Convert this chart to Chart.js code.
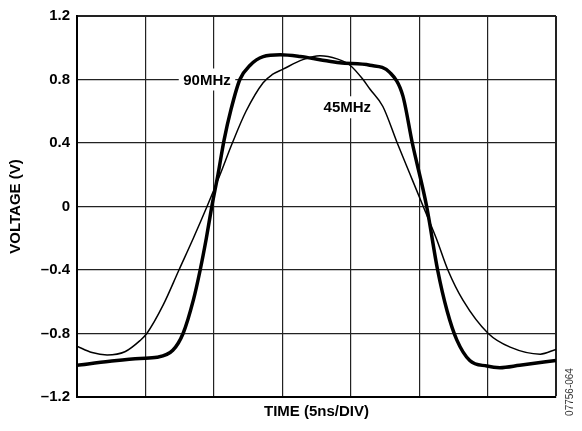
<!DOCTYPE html>
<html>
<head>
<meta charset="utf-8">
<script src="https://cdn.jsdelivr.net/npm/chart.js@4.4.0/dist/chart.umd.min.js"></script>
<style>
  html, body { margin: 0; padding: 0; background: #fff; }
</style>
</head>
<body>
<canvas id="scopeChart" width="582" height="431"></canvas>
<script>
// time in divisions (5 ns/div), voltage in V
const time90 = [0, 0.48, 0.92, 1.17, 1.40, 1.55, 1.70, 1.80, 1.89, 1.97, 2.06, 2.15, 2.25, 2.38, 2.53, 2.72, 2.97, 3.26, 3.55, 3.84, 4.28, 4.57, 4.76, 4.90, 5.11, 5.27, 5.41, 5.55, 5.74, 5.99, 6.18, 6.47, 7.0];
const volt90 = [-1.0, -0.975, -0.957, -0.95, -0.906, -0.8, -0.59, -0.4, -0.2, 0, 0.2, 0.42, 0.61, 0.8, 0.89, 0.944, 0.956, 0.945, 0.925, 0.905, 0.89, 0.845, 0.7, 0.4, 0, -0.4, -0.66, -0.84, -0.97, -1.005, -1.015, -1.0, -0.97];

const time45 = [0, 0.22, 0.44, 0.70, 0.92, 1.02, 1.26, 1.49, 1.70, 1.90, 2.09, 2.27, 2.47, 2.72, 2.85, 3.01, 3.30, 3.55, 3.80, 3.99, 4.18, 4.28, 4.47, 4.68, 4.87, 5.06, 5.25, 5.42, 5.64, 6.01, 6.33, 6.77, 7.0];
const volt45 = [-0.88, -0.92, -0.935, -0.915, -0.845, -0.8, -0.62, -0.4, -0.2, 0, 0.2, 0.4, 0.6, 0.78, 0.83, 0.865, 0.925, 0.95, 0.93, 0.89, 0.8, 0.74, 0.63, 0.4, 0.2, 0, -0.2, -0.4, -0.59, -0.8, -0.886, -0.93, -0.9];

const xDivs = [0, 1, 2, 3, 4, 5, 6, 7];
const yTicks = [-1.2, -0.8, -0.4, 0, 0.4, 0.8, 1.2];
const yTickLabels = ['\u20131.2', '\u20130.8', '\u20130.4', '0', '0.4', '0.8', '1.2'];

const traceNames = ['90MHz', '45MHz'];
const traceLabelX = [1.9, 3.95];
const traceLabelY = [0.8, 0.625];

const FONT = '"Liberation Sans", Arial, sans-serif';

const traceLabels = {
  id: 'traceLabels',
  beforeDatasetsDraw(chart) {
    const { ctx, scales: { x, y } } = chart;
    ctx.save();
    ctx.font = 'bold 15px ' + FONT;
    ctx.textAlign = 'center';
    ctx.textBaseline = 'middle';
    traceNames.forEach((name, i) => {
      const px = x.getPixelForValue(traceLabelX[i]);
      const py = y.getPixelForValue(traceLabelY[i]);
      const w = ctx.measureText(name).width + 9;
      ctx.fillStyle = '#fff';
      ctx.fillRect(px - w / 2, py - 11, w, 22);
      ctx.fillStyle = '#000';
      ctx.fillText(name, px, py + 1);
    });
    ctx.restore();
  },
  afterDraw(chart) {
    const ctx = chart.ctx;
    ctx.save();
    ctx.translate(570, 392);
    ctx.rotate(-Math.PI / 2);
    ctx.font = '10px ' + FONT;
    ctx.fillStyle = '#333';
    ctx.textAlign = 'center';
    ctx.textBaseline = 'middle';
    ctx.fillText('07756-064', 0, 0);
    ctx.restore();
  }
};

const toPoints = (xs, ys) => xs.map((t, i) => ({ x: t, y: ys[i] }));

new Chart(document.getElementById('scopeChart'), {
  type: 'line',
  data: {
    datasets: [{
      label: traceNames[0],
      data: toPoints(time90, volt90),
      borderColor: '#000',
      borderWidth: 3.5,
      pointRadius: 0,
      cubicInterpolationMode: 'monotone',
      fill: false
    }, {
      label: traceNames[1],
      data: toPoints(time45, volt45),
      borderColor: '#000',
      borderWidth: 1.5,
      pointRadius: 0,
      cubicInterpolationMode: 'monotone',
      fill: false
    }]
  },
  options: {
    responsive: false,
    animation: false,
    devicePixelRatio: 1,
    layout: { padding: { top: 13, right: 26, bottom: 0, left: 0 } },
    plugins: { legend: { display: false }, tooltip: { enabled: false } },
    scales: {
      x: {
        type: 'linear',
        min: 0,
        max: 7,
        afterBuildTicks: s => { s.ticks = xDivs.map(v => ({ value: v })); },
        afterFit: s => { s.height = 34; },
        ticks: { display: false },
        grid: {
          color: '#222',
          lineWidth: c => (c.tick && c.tick.value === 7 ? 2 : 1.2),
          drawTicks: false
        },
        border: { display: true, color: '#000', width: 2 },
        title: {
          display: true,
          text: 'TIME (5ns/DIV)',
          color: '#000',
          font: { family: FONT, size: 15, weight: 'bold' },
          padding: { top: 0, bottom: 10 }
        }
      },
      y: {
        min: -1.2,
        max: 1.2,
        afterBuildTicks: s => { s.ticks = yTicks.map(v => ({ value: v })); },
        afterFit: s => { s.width = 77; },
        ticks: {
          color: '#000',
          padding: 7,
          font: { family: FONT, size: 15, weight: 'bold' },
          callback: (v, i) => yTickLabels[i]
        },
        grid: {
          color: '#222',
          lineWidth: c => (c.tick && c.tick.value === 1.2 ? 2 : 1.2),
          drawTicks: false
        },
        border: { display: true, color: '#000', width: 2 },
        title: {
          display: true,
          text: 'VOLTAGE (V)',
          color: '#000',
          font: { family: FONT, size: 15, weight: 'bold' },
          padding: { top: 7, bottom: 0 }
        }
      }
    }
  },
  plugins: [traceLabels]
});
</script>
</body>
</html>
